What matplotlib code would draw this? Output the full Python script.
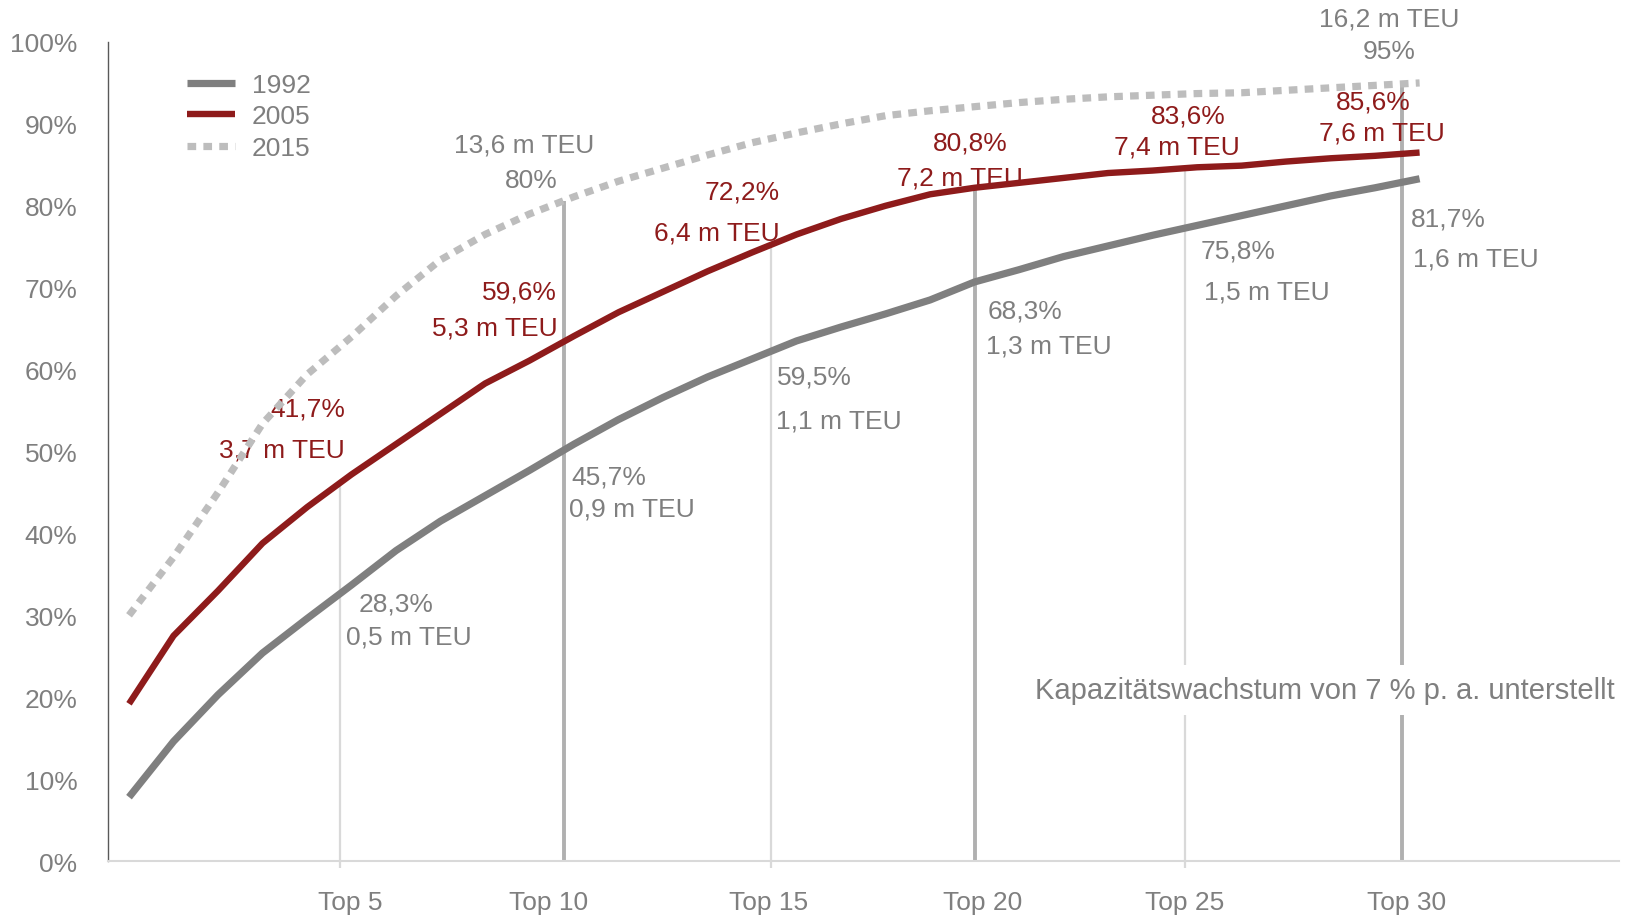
import numpy as np
import matplotlib.pyplot as plt

plt.rcParams['font.family'] = ['Liberation Sans', 'DejaVu Sans']

# Anteil der Top-N Reedereien an der Weltflotte (kumuliert, in %)
rank = np.arange(1, 31)
share_1992 = [7.8, 14.6, 20.3, 25.4, 29.6, 33.7, 37.9, 41.5, 44.6, 47.7,
              50.9, 53.9, 56.6, 59.1, 61.3, 63.5, 65.2, 66.8, 68.5, 70.7,
              72.2, 73.8, 75.1, 76.4, 77.6, 78.8, 80.0, 81.2, 82.2, 83.3]
share_2005 = [19.2, 27.5, 33.0, 38.8, 43.2, 47.2, 50.9, 54.6, 58.3, 61.1,
              64.1, 67.0, 69.5, 72.0, 74.3, 76.5, 78.4, 80.0, 81.4, 82.2,
              82.8, 83.4, 84.0, 84.3, 84.7, 84.9, 85.4, 85.8, 86.1, 86.5]
share_2015 = [30.0, 37.1, 45.0, 53.4, 59.4, 64.0, 69.0, 73.4, 76.5, 79.0,
              81.1, 83.0, 84.6, 86.2, 87.7, 88.9, 90.0, 91.0, 91.6, 92.1,
              92.6, 93.0, 93.3, 93.5, 93.7, 93.8, 94.1, 94.4, 94.7, 95.0]

tick_labels = ['Top 5', 'Top 10', 'Top 15', 'Top 20', 'Top 25', 'Top 30']

GRAY = '#7f7f7f'
RED = '#8e1b1b'
LIGHT = '#bdbdbd'

fig = plt.figure(figsize=(16.34, 9.2), dpi=100)
ax = fig.add_axes([0.0661, 0.0630, 0.9247, 0.8903])

# senkrechte Hilfslinien (duenn / dick), enden an der jeweiligen Kurve
guide_x = [5.74, 10.78, 15.43, 20.01, 24.73, 29.61]
guide_curve = [share_2005, share_2015, share_2005, share_2005, share_2005, share_2015]
guide_thick = [False, True, False, True, False, True]
for gx, curve, thick in zip(guide_x, guide_curve, guide_thick):
    top = np.interp(gx, rank, curve)
    if thick:
        ax.plot([gx, gx], [0, top], color='#b0b0b0', lw=2.8, zorder=1,
                solid_capstyle='butt')
    else:
        ax.plot([gx, gx], [-0.9, top], color='#d9d9d9', lw=1.6, zorder=1,
                solid_capstyle='butt', clip_on=False)

ax.plot(rank, share_1992, color=GRAY, lw=5.2, solid_capstyle='butt', zorder=3, label='1992')
ax.plot(rank, share_2005, color=RED, lw=4.6, solid_capstyle='butt', zorder=3, label='2005')
ax.plot(rank, share_2015, color=LIGHT, lw=5.2, dashes=(1.2, 1.0), zorder=3, label='2015')

# Beschriftungen
fs = 19
notes = [
    ('13,6 m TEU', 9.88, 87.5, 'center', GRAY),
    ('80%', 10.03, 83.1, 'center', GRAY),
    ('16,2 m TEU', 29.31, 102.9, 'center', GRAY),
    ('95%', 29.31, 98.9, 'center', GRAY),
    ('41,7%', 5.85, 55.3, 'right', RED),
    ('3,7 m TEU', 5.85, 50.3, 'right', RED),
    ('59,6%', 10.62, 69.5, 'right', RED),
    ('5,3 m TEU', 10.62, 65.1, 'right', RED),
    ('72,2%', 15.63, 81.8, 'right', RED),
    ('6,4 m TEU', 15.63, 76.7, 'right', RED),
    ('80,8%', 19.90, 87.7, 'center', RED),
    ('7,2 m TEU', 19.67, 83.4, 'center', RED),
    ('83,6%', 24.80, 91.0, 'center', RED),
    ('7,4 m TEU', 24.55, 87.2, 'center', RED),
    ('85,6%', 28.96, 92.7, 'center', RED),
    ('7,6 m TEU', 29.16, 89.0, 'center', RED),
    ('28,3%', 7.00, 31.5, 'center', GRAY),
    ('0,5 m TEU', 7.29, 27.4, 'center', GRAY),
    ('45,7%', 10.93, 47.0, 'left', GRAY),
    ('0,9 m TEU', 10.89, 43.0, 'left', GRAY),
    ('59,5%', 15.56, 59.2, 'left', GRAY),
    ('1,1 m TEU', 15.54, 53.8, 'left', GRAY),
    ('68,3%', 20.30, 67.2, 'left', GRAY),
    ('1,3 m TEU', 20.26, 62.9, 'left', GRAY),
    ('75,8%', 25.07, 74.5, 'left', GRAY),
    ('1,5 m TEU', 25.16, 69.5, 'left', GRAY),
    ('81,7%', 29.81, 78.4, 'left', GRAY),
    ('1,6 m TEU', 29.85, 73.6, 'left', GRAY),
]
for txt, x, y, ha, col in notes:
    ax.text(x, y, txt, ha=ha, va='center', fontsize=fs, color=col, zorder=2.5)

ax.text(27.87, 20.9, 'Kapazitätswachstum von 7 % p. a. unterstellt',
        ha='center', va='center', fontsize=21, color=GRAY, zorder=4,
        bbox=dict(facecolor='white', edgecolor='none', pad=8))

# Achsen
ax.set_xlim(0.528, 34.48)
ax.set_ylim(0, 100)
ax.set_yticks(range(0, 101, 10))
ax.set_yticklabels([f'{v}%' for v in range(0, 101, 10)])
ax.set_yticks([0], minor=True)
ax.set_xticks([5.97, 10.42, 15.36, 20.17, 24.71, 29.70])
ax.set_xticklabels(tick_labels)
ax.tick_params(axis='y', which='major', length=0, pad=22, labelsize=fs, labelcolor=GRAY)
ax.tick_params(axis='y', which='minor', length=7, width=1, color='#595959')
ax.tick_params(axis='x', length=0, pad=21, labelsize=fs, labelcolor=GRAY)

for s in ['top', 'right']:
    ax.spines[s].set_visible(False)
ax.spines['left'].set_color('#595959')
ax.spines['left'].set_linewidth(1.0)
ax.spines['bottom'].set_color('#d9d9d9')
ax.spines['bottom'].set_linewidth(1.5)

leg = ax.legend(loc='upper left', bbox_to_anchor=(0.0523, 0.962), frameon=False,
                fontsize=fs, handlelength=1.82, handletextpad=0.64,
                labelspacing=0.28, borderpad=0, borderaxespad=0)
for t in leg.get_texts():
    t.set_color(GRAY)

fig.savefig('out.png', dpi=100)
